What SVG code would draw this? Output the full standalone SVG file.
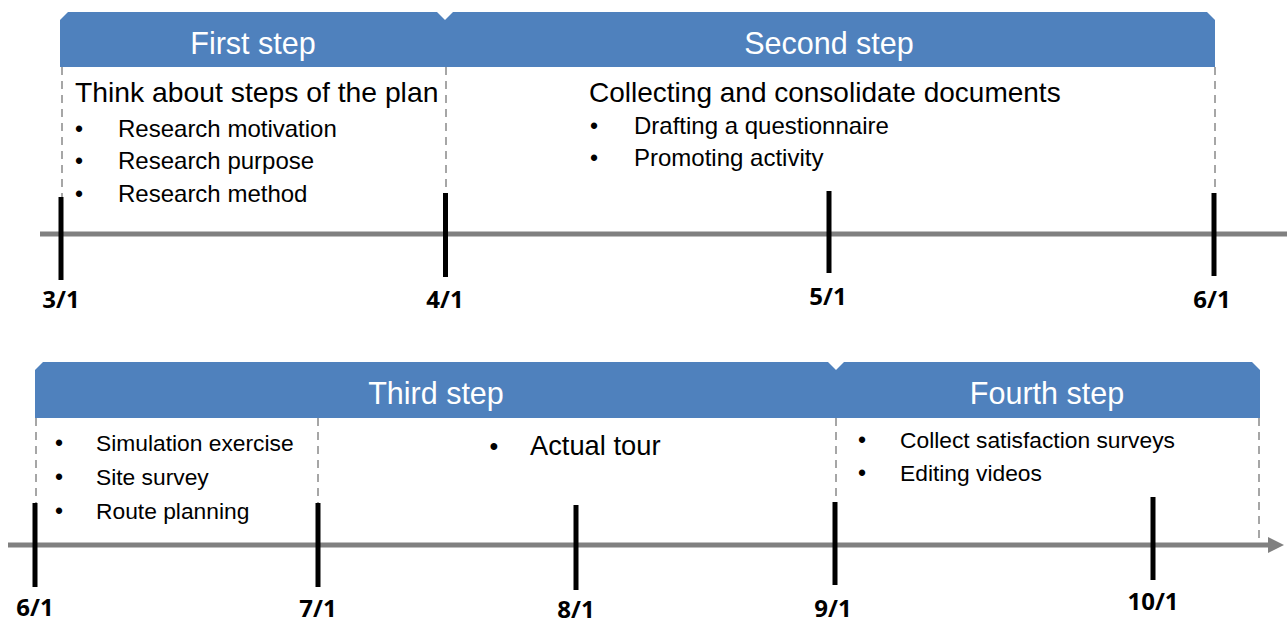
<svg xmlns="http://www.w3.org/2000/svg" width="1287" height="623" viewBox="0 0 1287 623">
<defs>
<style>
.banner{fill:#4F81BD;}
.htext{font-family:"Liberation Sans",Arial,sans-serif;font-size:30.5px;fill:#FFFFFF;text-anchor:middle;}
.title{font-family:"Liberation Sans",Arial,sans-serif;font-size:28px;fill:#000000;}
.item{font-family:"Liberation Sans",Arial,sans-serif;font-size:24px;fill:#000000;}
.item2{font-family:"Liberation Sans",Arial,sans-serif;font-size:22.8px;fill:#000000;}
.bul{font-family:"Liberation Sans",Arial,sans-serif;font-size:23px;fill:#000000;text-anchor:middle;}
.date{font-family:"Open Sans","Liberation Sans",sans-serif;font-weight:bold;font-size:24px;fill:#000000;text-anchor:middle;}
.dash{stroke:#A6A6A6;stroke-width:2;stroke-dasharray:8 6;fill:none;}
.axis{stroke:#808080;stroke-width:5;fill:none;}
.tick{stroke:#000000;stroke-width:5;fill:none;}
</style>
<marker id="arrow" viewBox="0 0 10 10" refX="0" refY="5" markerWidth="3.2" markerHeight="3.2" orient="auto" markerUnits="strokeWidth">
<path d="M0,0 L10,5 L0,10 Z" fill="#808080"/>
</marker>
</defs>
<rect width="1287" height="623" fill="#FFFFFF"/>

<g id="connectors">
<line class="dash" x1="62" y1="67" x2="62" y2="197"/>
<line class="dash" x1="446" y1="67" x2="446" y2="193"/>
<line class="dash" x1="1215" y1="67" x2="1215" y2="193"/>
<line class="dash" x1="36" y1="418" x2="36" y2="503"/>
<line class="dash" x1="318" y1="418" x2="318" y2="503"/>
<line class="dash" x1="836" y1="418" x2="836" y2="502"/>
<line class="dash" x1="1259" y1="418" x2="1259" y2="545"/>
<line class="axis" x1="40" y1="234" x2="1287" y2="234"/>
<line class="axis" x1="8" y1="545" x2="1268" y2="545" marker-end="url(#arrow)"/>
</g>

<g id="step1">
<path class="banner" d="M60,20 L68,12 L437,12 L445,20 L445,67 L60,67 Z"/>
<text class="htext" x="253" y="54">First step</text>
<text class="title" x="75" y="102" style="font-size:28.3px">Think about steps of the plan</text>
<text class="bul" x="79" y="137">•</text>
<text class="item" x="118" y="137">Research motivation</text>
<text class="bul" x="79" y="169">•</text>
<text class="item" x="118" y="169">Research purpose</text>
<text class="bul" x="79" y="202">•</text>
<text class="item" x="118" y="202">Research method</text>
</g>

<g id="step2">
<path class="banner" d="M445,20 L453,12 L1207,12 L1215,20 L1215,67 L445,67 Z"/>
<text class="htext" x="829" y="54">Second step</text>
<text class="title" x="589" y="102">Collecting and consolidate documents</text>
<text class="bul" x="594" y="134">•</text>
<text class="item" x="634" y="134">Drafting a questionnaire</text>
<text class="bul" x="594" y="166">•</text>
<text class="item" x="634" y="166">Promoting activity</text>
</g>

<g id="step3">
<path class="banner" d="M35,370 L43,362 L828,362 L836,370 L836,418 L35,418 Z"/>
<text class="htext" x="436" y="404">Third step</text>
<text class="bul" x="59" y="451">•</text>
<text class="item2" x="96" y="451">Simulation exercise</text>
<text class="bul" x="59" y="485">•</text>
<text class="item2" x="96" y="485">Site survey</text>
<text class="bul" x="59" y="519">•</text>
<text class="item2" x="96" y="519">Route planning</text>
<text class="bul" x="494" y="455" style="font-size:25px">•</text>
<text class="title" x="530" y="455" style="font-size:27.3px">Actual tour</text>
</g>

<g id="step4">
<path class="banner" d="M836,370 L844,362 L1252,362 L1260,370 L1260,418 L836,418 Z"/>
<text class="htext" x="1047" y="404">Fourth step</text>
<text class="bul" x="862" y="448">•</text>
<text class="item2" x="900" y="448">Collect satisfaction surveys</text>
<text class="bul" x="862" y="481">•</text>
<text class="item2" x="900" y="481">Editing videos</text>
</g>

<g id="ticks">
<line class="tick" x1="61" y1="197" x2="61" y2="280"/>
<line class="tick" x1="445.5" y1="193" x2="445.5" y2="277"/>
<line class="tick" x1="829" y1="191" x2="829" y2="273"/>
<line class="tick" x1="1214" y1="193" x2="1214" y2="276"/>
<line class="tick" x1="35" y1="503" x2="35" y2="587"/>
<line class="tick" x1="318" y1="503" x2="318" y2="587"/>
<line class="tick" x1="576" y1="505" x2="576" y2="590"/>
<line class="tick" x1="835" y1="502" x2="835" y2="585"/>
<line class="tick" x1="1153" y1="497" x2="1153" y2="580"/>
</g>

<g id="dates">
<text class="date" x="61" y="308">3/1</text>
<text class="date" x="445" y="308">4/1</text>
<text class="date" x="828" y="305">5/1</text>
<text class="date" x="1212" y="308">6/1</text>
<text class="date" x="35" y="616">6/1</text>
<text class="date" x="318" y="617">7/1</text>
<text class="date" x="576" y="618">8/1</text>
<text class="date" x="833" y="617">9/1</text>
<text class="date" x="1153" y="610">10/1</text>
</g>
</svg>
